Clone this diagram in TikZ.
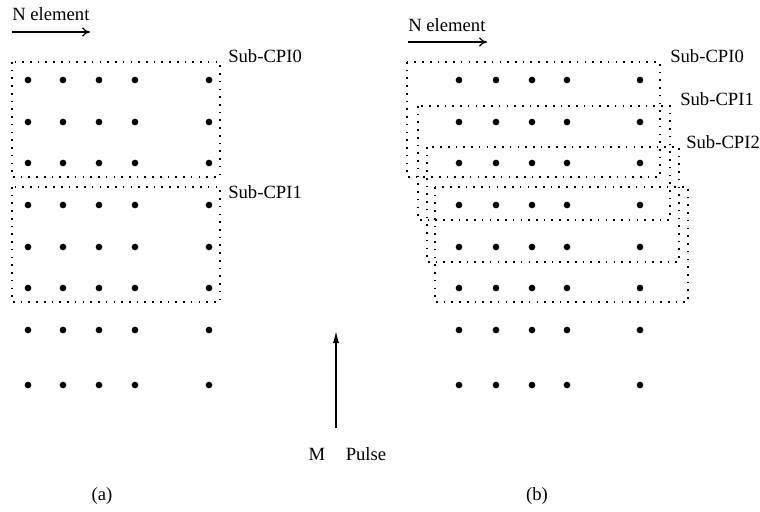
\documentclass[tikz,border=0pt]{standalone}
\usepackage{fontspec}
\setmainfont{Liberation Serif}
\usepackage{tikz}
\usetikzlibrary{arrows.meta,positioning}

\tikzset{
	elem/.style={circle, fill, inner sep=0pt, minimum size=5pt},
	subbox/.style={line width=1.3pt, dash pattern=on 1.2pt off 4.6pt},
	lbl/.style={anchor=base west, inner sep=0pt},
	narrow/.style={-{To[length=6pt,width=7pt]}, line width=0.9pt},
}

\begin{document}
\begin{tikzpicture}[x=0.75pt, y=-0.75pt, font=\fontsize{14}{17}\selectfont]
			\useasboundingbox (0,0) rectangle (760,511);

			% (a) disjoint sub-CPIs
			\foreach \y [count=\r] in {80,122,163,205,247,288,330,385}
				\foreach \x [count=\c] in {28,63,99,135,209}
					\node [elem] (a-\r-\c) at (\x,\y) {};
			\draw [subbox] (12,62) rectangle (220,177);
			\draw [subbox] (12,187) rectangle (220,302);
			\node [lbl] (subA0) at (228,62) {Sub-CPI0};
			\node [lbl] (subA1) at (228,198) {Sub-CPI1};

			\node [lbl] (nA) at (12,20) {N element};
			\coordinate (nAs) at (12,32);
			\coordinate (nAe) at (90,32);
			\draw [narrow] (nAs) to (nAe);

			% (b) overlapping sub-CPIs
			\foreach \y [count=\r] in {80,122,163,205,247,288,330,385}
				\foreach \x [count=\c] in {459,496,532,567,640}
					\node [elem] (b-\r-\c) at (\x,\y) {};
			\draw [subbox] (407,62) rectangle (660,177);
			\draw [subbox] (418,106) rectangle (670,220);
			\draw [subbox] (427,147) rectangle (679,262);
			\draw [subbox] (435,187) rectangle (688,302);
			\node [lbl] (subB0) at (670,62) {Sub-CPI0};
			\node [lbl] (subB1) at (680,105) {Sub-CPI1};
			\node [lbl] (subB2) at (686,148) {Sub-CPI2};

			\node [lbl] (nB) at (408,31) {N element};
			\coordinate (nBs) at (408,42);
			\coordinate (nBe) at (487,42);
			\draw [narrow] (nBs) to (nBe);

			% pulse axis
			\coordinate (mlo) at (336,428);
			\coordinate (mhi) at (336,331);
			\draw [-{Latex[length=9pt,width=4.5pt]}, line width=0.9pt] (mlo) to (mhi);
			\node (m) at (317,454) {M};
			\node (pulse) at (366,454) {Pulse};

			\node (capA) at (102,496) {(a)};
			\node (capB) at (537,496) {(b)};
		\end{tikzpicture}
\end{document}
